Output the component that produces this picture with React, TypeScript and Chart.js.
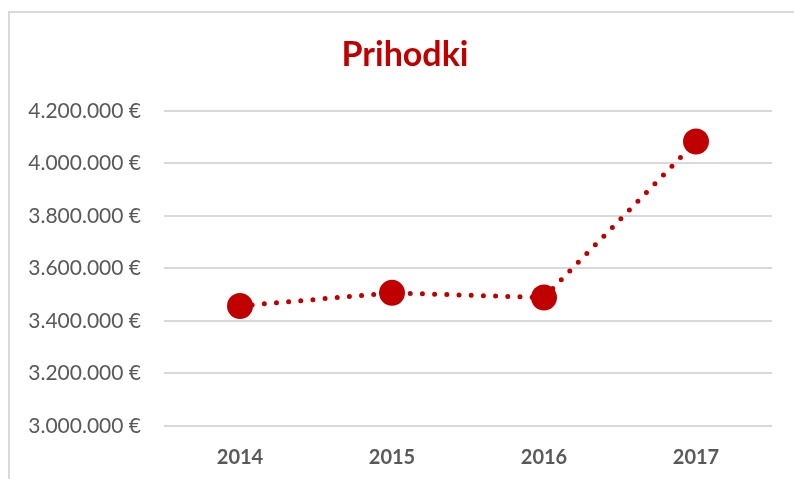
import React, { useEffect, useRef } from "react";
import { Chart, registerables } from "chart.js";

Chart.register(...registerables);

const categories = ["2014", "2015", "2016", "2017"];
const revenue = [3457000, 3507000, 3489000, 4083000];
const yMin = 3000000;
const yMax = 4200000;
const yStep = 200000;
const titleText = "Prihodki";

function formatEuro(v: number): string {
  const s = Math.round(v).toString();
  const parts: string[] = [];
  for (let i = s.length; i > 0; i -= 3) parts.unshift(s.slice(Math.max(0, i - 3), i));
  return parts.join(".") + " €";
}

export default function App() {
  const ref = useRef<HTMLCanvasElement | null>(null);
  useEffect(() => {
    if (!ref.current) return;
    const red = "#c00000";
    const chart = new Chart(ref.current, {
      type: "line",
      data: {
        labels: categories,
        datasets: [
          {
            data: revenue,
            borderColor: red,
            backgroundColor: red,
            borderWidth: 5,
            borderDash: [0, 12.2],
            borderCapStyle: "round",
            pointRadius: 13,
            pointHoverRadius: 13,
            pointBackgroundColor: red,
            pointBorderColor: red,
            pointBorderWidth: 0,
            tension: 0,
          },
        ],
      },
      options: {
        animation: false,
        responsive: false,
        maintainAspectRatio: false,
        layout: { padding: { left: 38, right: 22, top: 0, bottom: 0 } },
        plugins: {
          legend: { display: false },
          tooltip: { enabled: false },
          title: {
            display: true,
            text: titleText,
            color: red,
            font: { family: "Lato", size: 34, weight: "bold", lineHeight: 1.2 },
            padding: { top: 35, bottom: 35 },
          },
        },
        scales: {
          x: {
            type: "category",
            offset: true,
            grid: { display: false, drawTicks: false },
            border: { display: false },
            afterFit: (scale: any) => {
              scale.height = 53;
            },
            ticks: {
              color: "#595959",
              padding: 20,
              font: { family: "Lato", size: 20, weight: "bold" },
            },
          },
          y: {
            min: yMin,
            max: yMax,
            border: { display: false },
            grid: { color: "#d9d9d9", lineWidth: 2, drawTicks: false },
            afterFit: (scale: any) => {
              scale.width = 126;
              scale._computeLabelArea = () => undefined;
            },
            ticks: {
              stepSize: yStep,
              color: "#595959",
              padding: 23,
              font: { family: "Lato", size: 21 },
              callback: (v: any) => formatEuro(Number(v)),
            },
          },
        },
      },
    });
    return () => chart.destroy();
  }, []);
  return (
    <div
      style={{
        position: "fixed",
        left: 0,
        top: 0,
        width: 794,
        height: 479,
        overflow: "hidden",
        background: "#fff",
      }}
    >
      <div
        style={{
          position: "absolute",
          left: 8,
          top: 11,
          width: 900,
          height: 600,
          borderLeft: "2px solid #d9d9d9",
          borderTop: "2px solid #d9d9d9",
        }}
      />
      <canvas
        ref={ref}
        width={794}
        height={479}
        style={{ position: "absolute", left: 0, top: 0, width: 794, height: 479 }}
      />
    </div>
  );
}
